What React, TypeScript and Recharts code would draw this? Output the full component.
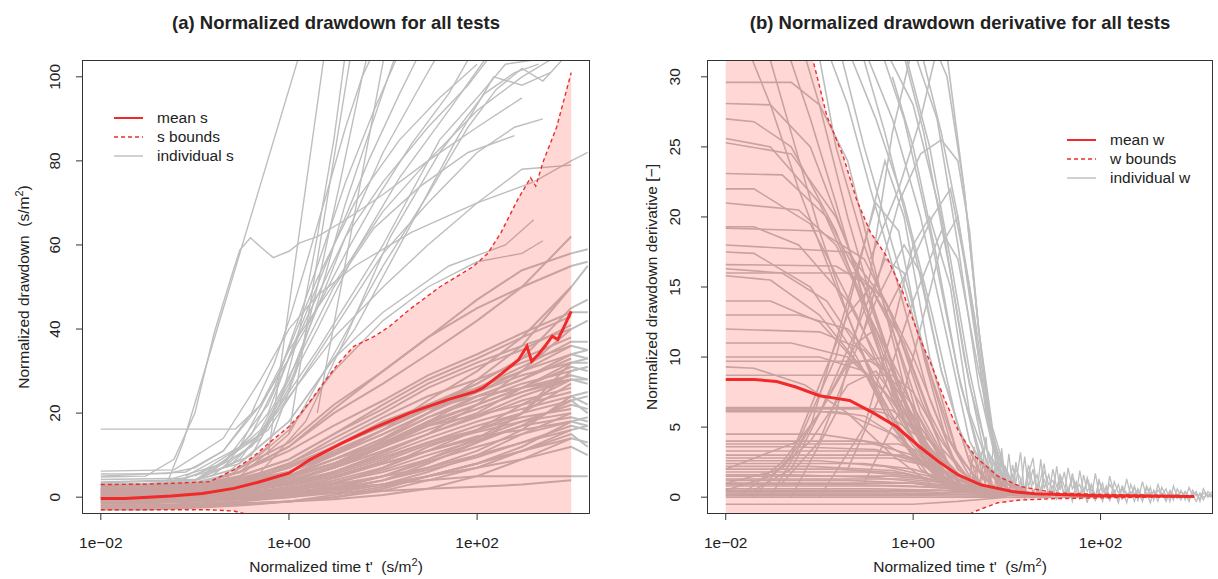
import { ComposedChart, Line, Area, XAxis, YAxis } from 'recharts'

// log time axis shared by both panels
const T_DOMAIN: [number, number] = [Math.pow(10, -2.2), Math.pow(10, 3.2)]
const X_TICKS = [0.01, 1, 100]
const X_TICK_LABELS = ['1e\u221202', '1e+00', '1e+02']

const S_TICKS = [0, 20, 40, 60, 80, 100]
const W_TICKS = [0, 5, 10, 15, 20, 25, 30]

// ---------- (a) drawdown ----------
const meanTimeA = [0.01, 0.018, 0.056, 0.12, 0.26, 0.46, 1, 1.7, 3.7, 8, 19, 49, 95, 115, 185, 276, 339, 380, 450, 525, 630, 720, 800, 1000]
const meanA = [-0.3, -0.3, 0.3, 0.9, 2.1, 3.5, 5.7, 9, 12.9, 16.5, 20, 23.2, 25.1, 26, 29.5, 32.7, 35.9, 32.3, 34, 35.9, 38.3, 37.5, 39.5, 44.2]

const boundTimeA = [0.01, 0.03, 0.06, 0.145, 0.26, 0.42, 0.67, 1, 1.3, 1.7, 2.3, 3.4, 4.9, 8, 11.7, 19, 40, 90, 130, 180, 270, 370, 420, 500, 700, 1000]
const upperA = [3, 3.1, 3.3, 3.7, 6.5, 9.7, 13.6, 16.8, 19.6, 23, 27, 32, 35.9, 38.2, 40.6, 44.6, 50, 54.8, 58, 63, 70.8, 76, 74, 79.6, 88, 101]
const lowerA = [-3, -3, -3, -3, -3.3, -4.5, -7, -10, -12, -14, -16, -18, -20, -22, -24, -26, -28, -30, -30, -30, -30, -30, -30, -30, -30, -30]

// individual tests inside the band, on a half-decade grid
const gridTimeA = [0.01, 0.03, 0.1, 0.3, 1, 3, 10, 30, 100, 300, 1000, 1500]
const sInside: (number | null)[][] = [
  [0, 0, 0.2, 0.5, 1, 2, 3, 4, 5, 5, 5, 5],
  [-1, -1, -0.5, 0, 0.5, 1, 1.5, 2, 2.5, 3, 4, null],
  [0.5, 0.5, 1, 2, 3, 5, 8, 11, 14, 18, 22, 21],
  [1, 1, 1.5, 3, 5, 9, 13, 17, 21, 25, 28, 28],
  [0, 0.3, 1, 2, 4, 7, 11, 15, 19, 23, 26, null],
  [2, 2, 2.5, 4, 7, 12, 17, 22, 26, 30, 34, 33],
  [-2, -2, -1.5, -1, 0, 1, 3, 6, 10, 15, 20, null],
  [1.5, 1.5, 2, 3, 6, 10, 15, 20, 25, 30, 36, null],
  [0, 0, 0.5, 1.5, 3, 6, 10, 14, 18, 21, 24, 22],
  [2.5, 2.5, 3, 5, 9, 15, 21, 27, 32, 36, 40, 42],
  [-0.5, -0.5, 0, 1, 2, 4, 7, 12, 16, 20, 30, 31],
  [1, 1, 1.5, 2.5, 4, 7, 12, 18, 24, 28, 33, null],
  [-3, -3, -2.5, -2, -1, 0, 2, 5, 8, 12, 18, null],
  [0.5, 0.5, 1, 3, 6, 11, 16, 21, 27, 33, 45, 47],
  [1, 1, 1.5, 3, 5, 8, 12, 16, 20, 26, 32, null],
  [2, 2, 2, 3, 5, 9, 14, 20, 28, 36, 50, null],
  [0, 0, 0.3, 1, 2, 3.5, 6, 9, 13, 17, 23, 20],
  [-1, -1, -0.5, 0, 1, 2.5, 5, 9, 14, 20, 27, null],
  [1.5, 1.5, 2, 4, 8, 13, 19, 24, 28, 32, 36, 35],
  [0, 0, 0.5, 2, 5, 10, 16, 23, 30, 38, 50, 55],
  [3, 3, 3, 4, 6, 10, 15, 20, 26, 31, 37, 37],
  [0.5, 0.5, 0.5, 1, 1.5, 2, 3, 5, 8, 11, 15, 12],
  [-2, -2, -2, -1.5, -1, -0.5, 0.5, 2, 5, 9, 14, null],
  [1, 1, 1.5, 2.5, 5, 9, 14, 19, 23, 27, 30, 31],
  [2, 2, 2.5, 4, 8, 14, 20, 26, 31, 35, 41, null],
  [0, 0, 0, 0.5, 1, 2, 4, 8, 13, 20, 32, 33],
  [-1.5, -1.5, -1, -0.5, 0.5, 1.5, 3, 5, 7, 9, 12, 10],
  [2.5, 2.5, 3, 6, 11, 17, 23, 29, 34, 39, 44, 44],
  [0, 0, 0.5, 1.5, 3.5, 7, 12, 17, 21, 25, 29, 28],
  [1, 1, 1, 2, 4, 7, 11, 15, 22, 30, 40, null],
  [3, 3, 4, 7, 13, 22, 30, 38, 45, 50, 55, 56],
  [2, 2, 3, 6, 12, 20, 27, 34, 42, 50, 62, null],
  [3, 3, 3.5, 6, 12, 21, 30, 38, 47, 54, 58, 59],
  [-2.5, -2.5, -2, -1, 0.5, 3, 7, 11, 16, 22, 28, 27],
  [1.5, 1.5, 2, 3.5, 7, 12, 18, 22, 27, 33, 38, null],
  [-1, -1, -1, -0.5, 0, 1.5, 4, 7, 11, 16, 24, 25],
  [0.5, 0.5, 1, 2, 4.5, 8, 13, 18, 22, 26, 31, 30],
  [2, 2, 2.5, 5, 9, 15, 22, 28, 33, 38, 43, null],
  [-0.5, -0.5, 0, 0.5, 1.5, 3, 5, 7, 10, 13, 17, 16],
  [-2, -2, -1.8, -1.5, -1, 0, 1.5, 4, 7, 11, 16, null],
  [0, 0, 0.4, 1.2, 3, 5.5, 9, 13, 17, 20, 23, 24],
  [1, 1, 1.2, 2, 3.5, 6, 9.5, 13, 16, 19, 21, null],
  [-0.5, -0.5, -0.3, 0.3, 1.5, 3.5, 6.5, 10, 13.5, 17, 19, 18],
  [0.5, 0.5, 0.8, 1.8, 3.8, 7.5, 12.5, 17.5, 22, 26, 29, null],
  [-1, -1, -0.8, -0.2, 0.8, 2, 4, 6.5, 9.5, 13, 16, 17],
  [1.5, 1.5, 1.8, 2.5, 4.5, 8, 13.5, 19, 24, 28, 34, 35],
  [0, 0, 0.2, 0.8, 2.5, 5, 8.5, 12.5, 15.5, 18, 20, null],
  [2, 2, 2.2, 3.5, 6, 10.5, 16, 21, 25, 29, 32, 32],
  [-2.5, -2.5, -2.3, -1.8, -1, 0.5, 2.5, 5, 8, 11, 14, 13],
  [0.3, 0.3, 0.6, 1.5, 3, 6, 10.5, 15, 19.5, 24, 28, null],
  [-1.2, -1.2, -1, -0.5, 0.5, 2, 5, 8.5, 12, 15, 18, 19],
  [1.2, 1.2, 1.5, 2.8, 5.2, 9, 13, 17, 19.5, 22, 25, null],
  [-0.2, -0.2, 0, 0.8, 2, 4.5, 8, 11, 14.5, 16, 18, 17],
  [2.8, 2.8, 3, 4.5, 7.5, 12, 17, 21, 24, 26, 28, null],
]

// individual tests that climb above the band, [t, s]
const sAbove: [number, number][][] = [
  [[0.01, 5.5], [0.05, 5.6], [0.1, 7], [0.2, 11], [0.4, 20], [0.7, 32], [1, 42], [1.5, 55], [2.5, 72], [4, 88], [6, 100], [8, 106]],
  [[0.01, 4.2], [0.08, 4.5], [0.2, 8], [0.4, 15], [0.7, 26], [1, 36], [2, 55], [4, 75], [8, 92], [15, 106]],
  [[0.01, 3.6], [0.1, 4.2], [0.25, 8], [0.5, 15], [1, 28], [2, 45], [4, 62], [10, 82], [25, 98], [40, 106]],
  [[0.01, 3.4], [0.1, 4], [0.3, 9], [0.6, 18], [1, 27], [2, 40], [5, 58], [15, 76], [50, 92], [120, 104]],
  [[0.01, 5], [0.08, 6], [0.2, 11], [0.5, 22], [1, 35], [2, 45], [5, 58], [10, 68], [30, 80], [100, 92], [300, 100], [600, 104]],
  [[0.01, 6.2], [0.06, 6.5], [0.2, 14], [0.5, 28], [1, 40], [2, 48], [5, 55], [20, 63], [100, 70], [400, 75], [1000, 80], [1500, 82]],
  [[0.02, 3], [0.1, 4], [0.4, 12], [1, 24], [3, 38], [10, 50], [30, 60], [100, 70], [300, 78], [1000, 79]],
  [[0.05, 3.5], [0.3, 8], [1, 18], [3, 33], [10, 44], [50, 55], [200, 60], [400, 66]],
  [[0.05, 3], [0.075, 13], [1.32, 106]],
  [[0.1, 4], [0.4, 10], [0.8, 22], [1.3, 40], [2, 62], [3, 85], [4, 106]],
  [[0.2, 4], [0.6, 12], [1.2, 30], [2, 50], [3.5, 75], [6, 100], [7, 106]],
  [[0.15, 5], [0.5, 14], [1, 26], [2, 46], [4, 70], [8, 90], [14, 106]],
  [[0.1, 5], [0.5, 15], [2, 35], [10, 60], [40, 85], [100, 95], [200, 103], [400, 104]],
  [[0.2, 5], [1, 18], [5, 40], [20, 65], [60, 85], [150, 100], [300, 98], [600, 101]],
  [[0.1, 4], [0.6, 16], [3, 40], [10, 58], [30, 70], [100, 82], [250, 88], [500, 90]],
  [[0.3, 6], [1, 16], [3, 30], [10, 42], [30, 50], [100, 56], [300, 58], [500, 61]],
  [[0.05, 4], [0.2, 8], [0.6, 22], [1.5, 42], [4, 62], [10, 75], [30, 88], [80, 98], [150, 106]],
  [[0.08, 5], [0.3, 12], [0.8, 30], [2, 52], [5, 70], [15, 85], [40, 95], [100, 103]],
  [[0.15, 6], [0.5, 16], [1.2, 32], [3, 50], [8, 64], [25, 74], [80, 82], [250, 86]],
  [[0.2, 7], [0.6, 20], [1.3, 40], [3, 60], [7, 80], [15, 96], [25, 106]],
  [[0.3, 5], [1, 15], [3, 34], [10, 55], [30, 72], [80, 88], [160, 97], [300, 102], [500, 99], [800, 104]],
  [[0.5, 6], [1.5, 18], [4, 38], [12, 62], [40, 82], [120, 96], [250, 101], [450, 103]],
  [[0.01, 16.2], [0.27, 16.2], [0.5, 22], [1, 33], [2, 45], [4, 58], [8, 70], [20, 84], [50, 96], [90, 106]],
  [[0.01, 4.8], [0.03, 5], [0.06, 9], [0.1, 20], [0.16, 39], [0.24, 52], [0.3, 58.8], [0.39, 61.7], [0.5, 59.5], [0.68, 57], [1, 58.5], [1.3, 60.5], [2, 62], [4, 66], [10, 72], [30, 80], [100, 88], [300, 95]],
  [[0.6, 10], [2.4, 106]],
  [[1, 15], [4.6, 106]],
  [[2, 20], [10.5, 106]],
]

// ---------- (b) derivative ----------
const meanTimeB = [0.01, 0.02, 0.035, 0.056, 0.1, 0.145, 0.21, 0.38, 0.66, 1.17, 1.9, 3.0, 5.3, 11.5, 20, 50, 100, 300, 1000]
const meanB = [8.4, 8.4, 8.26, 7.86, 7.24, 7.07, 6.9, 6.0, 5.04, 3.6, 2.5, 1.6, 0.88, 0.4, 0.24, 0.15, 0.1, 0.08, 0.05]

const boundTimeB = [0.01, 0.03, 0.06, 0.086, 0.12, 0.18, 0.25, 0.35, 0.52, 0.78, 1.2, 1.6, 2.1, 3.1, 4.6, 8, 14, 34, 100, 300, 1000]
const upperB = [45, 40, 34, 31.1, 27.2, 24.3, 21.2, 18.9, 17.2, 14.6, 11.2, 9.3, 7.2, 4.6, 2.9, 1.5, 0.76, 0.3, 0.2, 0.15, 0.1]
const lowerB = [-6, -6, -6, -6, -6, -5.5, -5, -4.5, -4, -3.5, -3, -2.6, -2.2, -1.6, -1.0, -0.4, -0.2, -0.1, -0.05, 0, 0.02]

const wIndividual: [number, number][][] = [
  [[0.01, 29.6], [0.05, 29.6], [0.1, 28], [0.2, 24], [0.4, 16], [0.8, 8], [1.5, 3], [3, 0.8], [6, 0.2]],
  [[0.01, 28.1], [0.03, 28], [0.08, 25], [0.2, 18], [0.5, 9], [1, 4], [2, 1.2], [4, 0.3]],
  [[0.01, 27], [0.02, 26.8], [0.05, 25], [0.15, 19], [0.4, 11], [1, 4], [2.5, 1], [5, 0.2]],
  [[0.01, 25.6], [0.03, 25], [0.1, 21], [0.3, 14], [0.7, 7], [1.5, 2.5], [3, 0.6]],
  [[0.01, 25.3], [0.05, 24.5], [0.15, 20], [0.4, 13], [1, 5], [2, 1.5], [4, 0.3]],
  [[0.01, 23.1], [0.04, 23], [0.12, 20], [0.3, 15], [0.7, 8], [1.5, 3], [3, 0.7]],
  [[0.01, 19.3], [0.02, 19.3], [0.06, 18], [0.2, 14], [0.5, 9], [1.2, 4], [3, 0.8]],
  [[0.01, 19.2], [0.1, 19], [0.3, 17], [0.6, 13], [1.2, 7], [2.5, 2], [5, 0.3]],
  [[0.01, 17.5], [0.02, 17.4], [0.08, 15], [0.25, 10], [0.6, 5], [1.5, 1.5], [3, 0.3]],
  [[0.01, 16.6], [0.15, 16.5], [0.35, 15], [0.8, 11], [1.5, 6], [3, 2], [6, 0.4]],
  [[0.01, 16.3], [0.04, 16], [0.12, 14], [0.3, 10], [0.8, 5], [2, 1.5]],
  [[0.01, 16], [0.25, 16], [0.5, 14], [1, 10], [2, 5], [4, 1.5], [8, 0.3]],
  [[0.01, 15.8], [0.03, 15.5], [0.1, 13], [0.3, 9], [0.8, 4], [2, 1]],
  [[0.01, 13], [0.06, 13], [0.2, 12], [0.5, 9], [1.2, 5], [3, 1.5], [6, 0.3]],
  [[0.01, 10], [0.1, 10], [0.3, 9], [0.8, 6], [2, 2.5], [5, 0.5]],
  [[0.01, 9.7], [0.35, 9.7], [0.5, 9], [1, 6.5], [2, 3], [4, 0.8]],
  [[0.01, 9.3], [0.02, 9.2], [0.07, 8], [0.2, 6], [0.6, 3], [1.5, 1]],
  [[0.01, 8.7], [0.6, 8.7], [1, 7.5], [2, 4], [4, 1.2], [8, 0.2]],
  [[0.01, 6.3], [0.4, 6.3], [0.6, 6.2], [1.5, 4], [3, 1.5], [6, 0.4]],
  [[0.01, 6.1], [0.15, 6.1], [0.3, 5.8], [0.8, 4], [2, 1.5], [5, 0.3]],
  [[0.01, 6.4], [0.25, 6.4], [0.5, 6], [1.2, 4.2], [3, 1.3], [7, 0.3]],
  [[0.01, 6.2], [0.08, 6.2], [0.2, 5.9], [0.6, 4.5], [1.5, 2], [4, 0.4]],
  [[0.01, 4], [0.3, 4], [1, 3], [3, 1.2], [8, 0.3]],
  [[0.01, 4.5], [0.1, 4.5], [0.5, 3.8], [1.5, 2], [4, 0.5]],
  [[0.01, 3], [0.8, 3], [2, 2], [5, 0.8], [15, 0.2]],
  [[0.01, 3.3], [0.4, 3.3], [1.2, 2.6], [3, 1.2], [8, 0.3]],
  [[0.01, 2.6], [0.1, 2.6], [0.5, 2.2], [2, 1.3], [6, 0.4]],
  [[0.01, 2.8], [0.6, 2.8], [1.5, 2.2], [4, 0.9], [10, 0.2]],
  [[0.01, 2.4], [0.3, 2.4], [1, 2], [3, 1], [8, 0.3]],
  [[0.01, 2.0], [0.15, 2.0], [0.8, 1.7], [3, 0.8], [10, 0.2]],
  [[0.01, 1.5], [0.6, 1.5], [2, 1.2], [6, 0.5], [20, 0.1]],
  [[0.01, 1.6], [0.05, 1.6], [0.4, 1.4], [2, 0.9], [7, 0.3]],
  [[0.01, 1.3], [0.8, 1.3], [2.5, 1], [8, 0.4], [25, 0.1]],
  [[0.01, 1], [1, 1], [3, 0.7], [10, 0.2]],
  [[0.01, 0.9], [0.2, 0.9], [1, 0.8], [4, 0.5], [15, 0.1]],
  [[0.01, 0.6], [0.4, 0.6], [2, 0.5], [6, 0.3], [20, 0.1]],
  [[0.01, 0.5], [2, 0.5], [6, 0.3], [20, 0.1]],
  [[0.01, 0.4], [1, 0.4], [4, 0.3], [15, 0.1]],
  [[0.01, 0.1], [1.5, 0.1], [10, 0.05]],
  [[0.01, 0.2], [3, 0.2], [30, 0.05]],
  [[0.01, 0], [10, 0], [100, 0]],
  [[0.01, 1.8], [0.3, 1.8], [1, 1.5], [4, 0.6]],
  [[0.01, 0.8], [0.5, 0.8], [2, 0.7], [8, 0.3]],
  [[0.01, 3.6], [0.05, 3.6], [0.4, 3.4], [1.5, 2.2], [5, 0.6]],
  [[0.01, 3.8], [0.7, 3.8], [1.5, 3], [4, 1.2], [10, 0.3]],
  [[0.01, -0.5], [1, -0.5], [3, -0.3], [10, 0]],
  [[0.01, 1.2], [0.2, 1.2], [1, 1], [3, 0.5], [10, 0.1]],
  [[0.01, 0.3], [0.5, 0.3], [2, 0.25], [8, 0.1]],
  [[0.01, 2.2], [0.08, 2.2], [0.6, 1.9], [2.5, 1], [8, 0.2]],
  [[0.01, 11], [0.05, 11], [0.2, 10], [0.5, 7.5], [1.2, 4], [3, 1.2], [7, 0.3]],
  [[0.01, 12], [0.1, 11.8], [0.3, 10.5], [0.7, 7.5], [1.5, 3.5], [4, 0.8]],
  [[0.01, 14], [0.03, 14], [0.1, 12.5], [0.3, 9], [0.8, 4.5], [2, 1.2]],
  [[0.01, 21], [0.06, 20.5], [0.15, 18], [0.4, 12], [1, 5], [2.5, 1.2]],
  [[0.01, 22], [0.02, 22], [0.08, 19.5], [0.25, 13], [0.6, 7], [1.5, 2], [3, 0.5]],
  [[0.01, 18], [0.2, 17.5], [0.5, 14], [1, 9], [2, 3.5], [5, 0.6]],
  [[0.02, 0], [0.05, 3], [0.1, 8], [0.2, 13], [0.35, 15], [0.6, 12], [1.2, 5], [3, 1], [6, 0.2]],
  [[0.01, 1], [0.04, 2], [0.1, 6], [0.25, 12], [0.5, 17], [0.8, 16], [1.5, 9], [3, 3], [6, 0.6]],
  [[0.03, 0], [0.08, 5], [0.2, 14], [0.4, 21], [0.7, 19], [1.3, 10], [2.5, 3], [5, 0.5]],
  [[0.01, 2], [0.06, 4], [0.15, 10], [0.3, 18], [0.5, 24], [0.8, 20], [1.5, 10], [3, 3], [6, 0.5]],
  [[0.04, 1], [0.1, 4], [0.2, 9], [0.4, 14], [0.8, 18], [1.2, 16], [2, 9], [4, 2.5], [8, 0.4]],
  [[0.02, 0.5], [0.05, 2], [0.12, 7], [0.25, 11], [0.4, 12], [0.8, 8], [1.5, 3], [3, 0.6]],
  [[0.01, 0.5], [0.03, 1.5], [0.08, 4], [0.2, 8], [0.4, 9], [0.8, 6], [1.6, 2.5], [4, 0.5]],
  [[0.015, 0.2], [0.04, 2.5], [0.1, 6], [0.2, 9.5], [0.5, 10], [1, 6.5], [2, 2.5], [5, 0.4]],
  [[0.05, 0], [0.15, 6], [0.35, 16], [0.6, 26], [0.9, 31], [1.2, 35]],
  [[0.1, 0], [0.3, 5], [0.6, 12], [1, 18], [1.5, 20], [2.5, 15], [4, 6], [7, 1.5], [12, 0.3]],
  [[0.2, 2], [0.5, 8], [1, 14], [2, 19], [3, 17], [5, 9], [8, 3], [12, 0.8]],
  [[0.3, 1], [0.7, 6], [1.3, 13], [2, 18], [3, 20], [4.5, 13], [7, 4], [11, 1]],
  [[0.3, 12], [0.7, 21], [1.2, 24.5], [2, 25.5], [3, 24], [4, 19], [5, 12], [7, 5], [10, 1.5], [15, 0.4]],
  [[0.09, 33], [0.15, 25], [0.3, 18], [0.6, 12], [1.2, 6], [2.5, 2], [5, 0.5]],
  [[0.15, 33], [0.3, 25], [0.6, 18], [1.2, 11], [2.5, 4], [5, 1], [10, 0.2]],
  [[0.25, 33], [0.5, 26], [1, 18], [2, 9], [4, 2.5], [8, 0.5]],
  [[0.3, 32], [0.6, 27], [1.2, 20], [2.2, 12], [4, 4], [7, 1]],
  [[0.4, 33], [0.8, 27], [1.5, 19], [3, 9], [5, 3], [9, 0.6]],
  [[0.5, 32], [1, 28], [2, 20], [3.5, 10], [6, 2.5], [10, 0.5]],
  [[0.7, 33], [1.3, 26], [2.5, 16], [4, 8], [7, 2], [12, 0.5]],
  [[1, 32], [1.8, 27], [3, 18], [5, 8], [8, 2], [14, 0.4]],
  [[1.5, 33], [2.3, 30], [3.5, 22], [5, 12], [7, 4], [9, 1.2], [15, 0.3]],
  [[2.3, 31.5], [3.5, 22], [5.1, 11.5], [7, 4.5], [10, 1]],
  [[0.12, 32], [0.2, 28], [0.35, 22], [0.7, 15], [1.5, 7], [3, 2], [6, 0.4]],
  [[0.2, 32], [0.4, 27], [0.8, 21], [1.6, 13], [3, 5], [6, 1]],
  [[0.8, 32], [1.5, 25], [2.5, 17], [4, 9], [6, 3.5], [10, 0.8]],
  [[1.2, 32], [2, 26], [3, 20], [4.5, 12], [6.5, 5], [10, 1.2], [18, 0.2]],
  [[0.6, 30], [1, 25], [1.8, 17], [3.2, 8], [5.5, 2.5], [9, 0.5]],
  [[0.35, 17], [0.7, 22], [1.2, 27], [1.8, 32]],
  [[0.5, 13], [1, 17], [1.6, 20], [2.5, 22], [4, 15], [6, 6], [9, 1.5]],
  [[0.025, 33], [0.05, 26], [0.1, 19], [0.2, 13], [0.5, 6], [1.2, 2], [3, 0.4]],
  [[0.04, 33], [0.08, 27], [0.15, 21], [0.3, 14], [0.7, 6], [1.5, 2], [3, 0.5]],
  [[0.06, 33], [0.1, 28], [0.2, 20], [0.4, 13], [0.9, 6], [2, 1.5]],
  [[0.015, 33], [0.03, 28], [0.06, 22], [0.15, 15], [0.4, 8], [1, 3], [2.5, 0.6]],
]

// late-time noisy derivative traces
const tailTime = [
  4, 4.5, 5, 5.5, 6, 6.6, 7.2, 8, 8.8,
  9.6, 10.5, 11.5, 12.5, 14, 15.5, 17, 19, 21,
  23, 25, 28, 31, 34, 37, 41, 45, 50,
  55, 60, 66, 72, 80, 88, 96, 105, 115,
  125, 140, 155, 170, 190, 210, 230, 250, 280,
  310, 340, 370, 410, 450, 500, 550, 600, 660,
  720, 800, 880, 960, 1050, 1150, 1250, 1400, 1550,
]
const wTail1 = [
  2.6, 0.9, 3.3, 1.2, 2.4, 0.6, 3.9, 1.0, 1.9,
  0.5, 3.1, 0.8, 2.5, 0.4, 2.9, 0.7, 2.0, 0.3,
  2.7, 0.6, 1.6, 0.2, 2.2, 0.5, 1.8, 0.3, 1.4,
  0.1, 1.9, 0.4, 1.2, 0.0, 1.7, 0.3, 1.0, -0.1,
  1.5, 0.2, 0.9, -0.2, 1.3, 0.1, 0.8, -0.3, 1.1,
  0.0, 0.7, -0.2, 0.9, 0.1, 0.6, -0.3, 0.8, 0.0,
  0.5, -0.2, 0.7, 0.1, 0.4, -0.3, 0.6, 0.0, 0.4,
]
const wTail2 = [
  1.3, 3.6, 0.7, 2.1, 4.3, 0.9, 2.7, 0.4, 3.5,
  1.2, 0.3, 2.3, 1.0, 3.2, 0.2, 1.6, 2.8, 0.5,
  1.3, 2.4, 0.1, 2.0, 0.7, 1.5, 0.1, 2.1, 0.6,
  1.1, -0.2, 1.6, 0.4, 0.9, -0.3, 1.3, 0.3, 0.7,
  -0.3, 1.1, 0.3, 0.6, -0.4, 0.9, 0.2, 0.5, -0.3,
  0.8, 0.2, 0.4, -0.3, 0.7, 0.1, 0.3, -0.2, 0.6,
  0.0, 0.4, -0.3, 0.5, 0.1, 0.2, -0.2, 0.4, 0.1,
]
const wTail3 = [
  0.8, 1.5, 0.3, 1.9, 0.6, 1.2, 0.2, 2.2, 0.5,
  1.4, 0.1, 1.7, 0.4, 1.1, -0.1, 1.8, 0.3, 0.9,
  0.0, 1.3, 0.2, 0.8, -0.2, 1.2, 0.1, 0.7, -0.3,
  1.0, 0.2, 0.6, -0.4, 0.9, 0.1, 0.5, -0.3, 0.8,
  0.0, 0.5, -0.4, 0.7, 0.1, 0.4, -0.3, 0.6, 0.0,
  0.3, -0.4, 0.5, 0.0, 0.3, -0.3, 0.4, 0.1, 0.2,
  -0.2, 0.4, 0.0, 0.2, -0.3, 0.3, 0.0, 0.2, 0.1,
]
const wTail4 = [
  3.0, 1.8, 2.2, 3.4, 1.1, 2.9, 1.5, 2.6, 0.8,
  2.2, 1.6, 0.6, 2.0, 1.3, 0.5, 2.3, 0.9, 1.6,
  0.4, 1.9, 0.9, 1.2, 0.3, 1.6, 0.8, 0.2, 1.7,
  0.6, 0.9, 0.1, 1.4, 0.5, 0.0, 1.1, 0.6, 0.2,
  0.9, 0.4, -0.1, 0.8, 0.3, 0.0, 0.7, 0.2, -0.2,
  0.6, 0.3, -0.1, 0.5, 0.2, -0.2, 0.5, 0.2, -0.1,
  0.4, 0.1, -0.2, 0.3, 0.2, -0.1, 0.3, 0.1, 0.0,
]

// ---------- helpers ----------
type Pt = { t: number; v: number }
type Trace = { pts: Pt[]; w: number }

const fromPairs = (pairs: [number, number][]): Pt[] => pairs.map(([t, v]) => ({ t, v }))
const fromGrid = (grid: number[], vals: (number | null)[]): Pt[] => {
  const out: Pt[] = []
  vals.forEach((v, i) => {
    if (v !== null && v !== undefined && grid[i] !== undefined) out.push({ t: grid[i], v })
  })
  return out
}
const band = (ts: number[], lo: number[], hi: number[]) => ts.map((t, i) => ({ t, range: [lo[i], hi[i]] }))

const FONT = "'Liberation Sans', Arial, Helvetica, sans-serif"
const GRAY = '#bebebe'
const RED = '#f02a2a'
const BAND_FILL = 'rgb(255, 40, 20)'
const INK = '#222'

const grayA: Trace[] = [
  ...sInside.map((vals) => ({ pts: fromGrid(gridTimeA, vals), w: 2 })),
  ...sAbove.map((p) => ({ pts: fromPairs(p), w: 1.4 })),
]
const grayB: Trace[] = [
  ...wIndividual.map((p) => ({ pts: fromPairs(p), w: 1.6 })),
  ...[wTail1, wTail2, wTail3, wTail4].map((vals) => ({ pts: fromGrid(tailTime, vals), w: 1.3 })),
]

type Layer = 'base' | 'band' | 'top'

interface PanelProps {
  layer: Layer
  width: number
  yAxisWidth: number
  rightMargin: number
  yDomain: [number, number]
  yTicks: number[]
  yLabelX: number
  gray: Trace[]
  area: { t: number; range: number[] }[]
  upper: Pt[]
  lower: Pt[]
  mean: Pt[]
}

const noTick = () => <g />

// the same axes are built in every layer so the three stacked svgs share one plot area;
// only the base layer shows ticks. The band sits over the grey curves, as in the source.
function Panel({ layer, width, yAxisWidth, rightMargin, yDomain, yTicks, yLabelX, gray, area, upper, lower, mean }: PanelProps) {
  const base = layer === 'base'
  const xTick = (props: any) => {
    const i = X_TICKS.indexOf(props.payload.value)
    return (
      <text x={props.x} y={548} textAnchor="middle" fontSize={15.5} fontFamily={FONT} fill={INK}>
        {i >= 0 ? X_TICK_LABELS[i] : ''}
      </text>
    )
  }
  const yTick = (props: any) => (
    <text
      x={yLabelX}
      y={props.y}
      transform={`rotate(-90 ${yLabelX} ${props.y})`}
      textAnchor="middle"
      fontSize={15.5}
      fontFamily={FONT}
      fill={INK}
    >
      {props.payload.value}
    </text>
  )

  return (
    <ComposedChart width={width} height={579} margin={{ top: 60, right: rightMargin, bottom: 0, left: 0 }}>
      <XAxis
        dataKey="t"
        type="number"
        scale="log"
        domain={T_DOMAIN}
        allowDataOverflow
        ticks={X_TICKS}
        interval={0}
        height={65}
        axisLine={false}
        tickLine={base ? { stroke: '#333' } : false}
        tickSize={6}
        tick={base ? xTick : noTick}
      />
      <YAxis
        type="number"
        domain={yDomain}
        allowDataOverflow
        ticks={yTicks}
        interval={0}
        width={yAxisWidth}
        axisLine={false}
        tickLine={base ? { stroke: '#333' } : false}
        tickSize={6}
        tick={base ? yTick : noTick}
      />
      {base &&
        gray.map((tr, i) => (
          <Line
            key={`g${i}`}
            data={tr.pts}
            dataKey="v"
            type="linear"
            stroke={GRAY}
            strokeWidth={tr.w}
            dot={false}
            activeDot={false}
            isAnimationActive={false}
          />
        ))}
      {layer === 'band' && (
        <Area
          data={area}
          dataKey="range"
          type="linear"
          stroke="none"
          fill={BAND_FILL}
          fillOpacity={0.18}
          dot={false}
          activeDot={false}
          isAnimationActive={false}
        />
      )}
      {layer === 'top' && (
        <Line data={upper} dataKey="v" type="linear" stroke={RED} strokeWidth={1.4} strokeDasharray="4 3" dot={false} activeDot={false} isAnimationActive={false} />
      )}
      {layer === 'top' && (
        <Line data={lower} dataKey="v" type="linear" stroke={RED} strokeWidth={1.4} strokeDasharray="4 3" dot={false} activeDot={false} isAnimationActive={false} />
      )}
      {layer === 'top' && (
        <Line data={mean} dataKey="v" type="linear" stroke={RED} strokeWidth={3} dot={false} activeDot={false} isAnimationActive={false} />
      )}
    </ComposedChart>
  )
}

const panelA = {
  width: 610,
  yAxisWidth: 82,
  rightMargin: 20,
  yDomain: [-4, 104] as [number, number],
  yTicks: S_TICKS,
  yLabelX: 60,
  gray: grayA,
  area: band(boundTimeA, lowerA, upperA),
  upper: fromGrid(boundTimeA, upperA),
  lower: fromGrid(boundTimeA, lowerA),
  mean: fromGrid(meanTimeA, meanA),
}

const panelB = {
  width: 608,
  yAxisWidth: 97,
  rightMargin: 5,
  yDomain: [-1.2, 31.2] as [number, number],
  yTicks: W_TICKS,
  yLabelX: 70,
  gray: grayB,
  area: band(boundTimeB, lowerB, upperB),
  upper: fromGrid(boundTimeB, upperB),
  lower: fromGrid(boundTimeB, lowerB),
  mean: fromGrid(meanTimeB, meanB),
}

const LAYERS: Layer[] = ['base', 'band', 'top']

function LegendBlock({ x, y, labels }: { x: number; y: number; labels: string[] }) {
  // x = start of the key line, y = baseline of first row
  const styles = [
    { stroke: RED, width: 2, dash: undefined },
    { stroke: RED, width: 1.4, dash: '4 3' },
    { stroke: GRAY, width: 1.4, dash: undefined },
  ]
  return (
    <g>
      {labels.map((lab, i) => (
        <g key={lab}>
          <line
            x1={x}
            x2={x + 29}
            y1={y + i * 19 - 4.5}
            y2={y + i * 19 - 4.5}
            stroke={styles[i].stroke}
            strokeWidth={styles[i].width}
            strokeDasharray={styles[i].dash}
          />
          <text x={x + 43} y={y + i * 19} fontSize={15.5}>
            {lab}
          </text>
        </g>
      ))}
    </g>
  )
}

function Units() {
  return (
    <>
      (s/m<tspan dy={-6} fontSize={11}>2</tspan>
      <tspan dy={6}>)</tspan>
    </>
  )
}

export default function App() {
  return (
    <div style={{ position: 'absolute', left: 0, top: 0, width: 1218, height: 579, background: '#fff' }}>
      {LAYERS.map((layer) => (
        <div key={`a-${layer}`} style={{ position: 'absolute', left: 0, top: 0 }}>
          <Panel layer={layer} {...panelA} />
        </div>
      ))}
      {LAYERS.map((layer) => (
        <div key={`b-${layer}`} style={{ position: 'absolute', left: 610, top: 0 }}>
          <Panel layer={layer} {...panelB} />
        </div>
      ))}
      <svg
        width={1218}
        height={579}
        style={{ position: 'absolute', left: 0, top: 0, pointerEvents: 'none' }}
        fontFamily={FONT}
        fill={INK}
      >
        <rect x={82.5} y={60.5} width={507} height={453} fill="none" stroke="#333" strokeWidth={1} />
        <rect x={707.5} y={60.5} width={505} height={453} fill="none" stroke="#333" strokeWidth={1} />

        <text x={336} y={29} textAnchor="middle" fontSize={18.5} fontWeight="bold">
          (a) Normalized drawdown for all tests
        </text>
        <text x={960} y={29} textAnchor="middle" fontSize={18.5} fontWeight="bold">
          (b) Normalized drawdown derivative for all tests
        </text>

        <text x={336} y={572} textAnchor="middle" fontSize={15.5} style={{ whiteSpace: 'pre' }}>
          {"Normalized time t'  "}
          <Units />
        </text>
        <text x={960} y={572} textAnchor="middle" fontSize={15.5} style={{ whiteSpace: 'pre' }}>
          {"Normalized time t'  "}
          <Units />
        </text>

        <text x={29} y={287} textAnchor="middle" fontSize={15.5} transform="rotate(-90 29 287)" style={{ whiteSpace: 'pre' }}>
          {'Normalized drawdown  '}
          <Units />
        </text>
        <text x={657} y={287} textAnchor="middle" fontSize={15.5} transform="rotate(-90 657 287)">
          Normalized drawdown derivative [{'\u2212'}]
        </text>

        <LegendBlock x={114} y={122.5} labels={['mean s', 's bounds', 'individual s']} />
        <LegendBlock x={1067} y={144.5} labels={['mean w', 'w bounds', 'individual w']} />
      </svg>
    </div>
  )
}
